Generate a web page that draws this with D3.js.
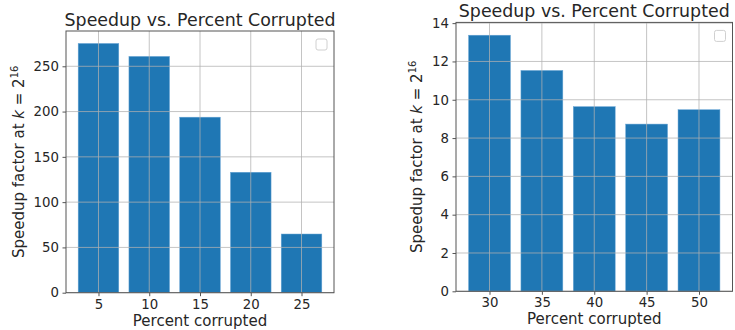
<!DOCTYPE html>
<html>
<head>
<meta charset="utf-8">
<script src="https://cdn.jsdelivr.net/npm/d3@7"></script>
<style>
    body { margin: 0; background: #fff; }
    text { font-family: "DejaVu Sans", sans-serif; fill: #262626; }
</style>
</head>
<body>
<svg id="chart" width="735" height="330"></svg>
<script>
// data
const leftPercents = [5, 10, 15, 20, 25];
const leftSpeedup = [275.2, 260.9, 193.8, 133.0, 64.8];
const leftYTicks = [0, 50, 100, 150, 200, 250];

const rightPercents = [30, 35, 40, 45, 50];
const rightSpeedup = [13.37, 11.53, 9.64, 8.73, 9.48];
const rightYTicks = [0, 2, 4, 6, 8, 10, 12, 14];

const titleText = "Speedup vs. Percent Corrupted";
const xLabelText = "Percent corrupted";

const svg = d3.select("#chart");

const options = {
    barColor: "#1f77b4",
    gridColor: "#b0b0b0",
    spineColor: "#555555",
    barWidth: 4,
    tickSize: 3.5,
};

function drawPanel(panel) {
    const { left, right, top, bottom, categories, values, yTicks } = panel;

    // scales (matplotlib style margins: 5% either side)
    const lo = d3.min(categories) - options.barWidth / 2;
    const hi = d3.max(categories) + options.barWidth / 2;
    const pad = (hi - lo) * 0.05;
    const x = d3.scaleLinear().domain([lo - pad, hi + pad]).range([left, right]);
    const y = d3.scaleLinear().domain([0, d3.max(values) * 1.05]).range([bottom, top]);

    const g = svg.append("g");

    // bars
    g.append("g")
        .selectAll("rect")
        .data(categories)
        .join("rect")
        .attr("x", (d) => x(d - options.barWidth / 2))
        .attr("width", (d) => x(d + options.barWidth / 2) - x(d - options.barWidth / 2))
        .attr("y", (d, i) => y(values[i]))
        .attr("height", (d, i) => y(0) - y(values[i]))
        .attr("fill", options.barColor)
        .attr("stroke", "#6aa6d6")
        .attr("stroke-width", 0.5);

    // grid on top of bars
    const grid = g.append("g")
        .attr("stroke", options.gridColor)
        .attr("stroke-opacity", 0.75)
        .attr("stroke-width", 1);
    grid.selectAll(".gx")
        .data(categories)
        .join("line")
        .attr("x1", (d) => x(d)).attr("x2", (d) => x(d))
        .attr("y1", top).attr("y2", bottom);
    grid.selectAll(".gy")
        .data(yTicks)
        .join("line")
        .attr("x1", left).attr("x2", right)
        .attr("y1", (d) => y(d)).attr("y2", (d) => y(d));

    // axes
    const xAxis = g.append("g")
        .attr("transform", `translate(0,${bottom})`)
        .call(d3.axisBottom(x).tickValues(categories).tickSize(options.tickSize).tickPadding(3));
    const yAxis = g.append("g")
        .attr("transform", `translate(${left},0)`)
        .call(d3.axisLeft(y).tickValues(yTicks).tickSize(options.tickSize).tickPadding(3.5));
    [xAxis, yAxis].forEach((a) => {
        a.select(".domain").remove();
        a.selectAll("line").attr("stroke", options.spineColor);
        a.selectAll("text")
            .attr("font-size", 13.3)
            .attr("fill", "#262626")
            .style("font-family", "DejaVu Sans");
    });

    // spines
    g.append("rect")
        .attr("x", left).attr("y", top)
        .attr("width", right - left).attr("height", bottom - top)
        .attr("fill", "none")
        .attr("stroke", options.spineColor)
        .attr("stroke-width", 1);

    // empty legend box
    g.append("rect")
        .attr("x", right - 18).attr("y", top + 8)
        .attr("width", 11).attr("height", 11)
        .attr("rx", 2)
        .attr("fill", "#fff")
        .attr("stroke", "#d0d0d0");

    // labels
    g.append("text")
        .attr("x", (left + right) / 2)
        .attr("y", top - 5.5)
        .attr("text-anchor", "middle")
        .attr("font-size", 17.4)
        .text(titleText);

    g.append("text")
        .attr("x", (left + right) / 2)
        .attr("y", bottom + 33)
        .attr("text-anchor", "middle")
        .attr("font-size", 15)
        .text(xLabelText);

    const yl = g.append("text")
        .attr("transform", `translate(${panel.yLabelX},${(top + bottom) / 2}) rotate(-90)`)
        .attr("text-anchor", "middle")
        .attr("font-size", 15);
    yl.append("tspan").text("Speedup factor at ");
    yl.append("tspan").attr("font-style", "italic").text("k");
    yl.append("tspan").text(" = 2");
    yl.append("tspan").attr("font-size", 10).attr("dy", -6).text("16");
}

drawPanel({
    left: 66, right: 334, top: 31, bottom: 292.7,
    categories: leftPercents, values: leftSpeedup, yTicks: leftYTicks,
    yLabelX: 24,
});

drawPanel({
    left: 456, right: 732.5, top: 22.4, bottom: 291.3,
    categories: rightPercents, values: rightSpeedup, yTicks: rightYTicks,
    yLabelX: 421.5,
});
</script>
</body>
</html>
